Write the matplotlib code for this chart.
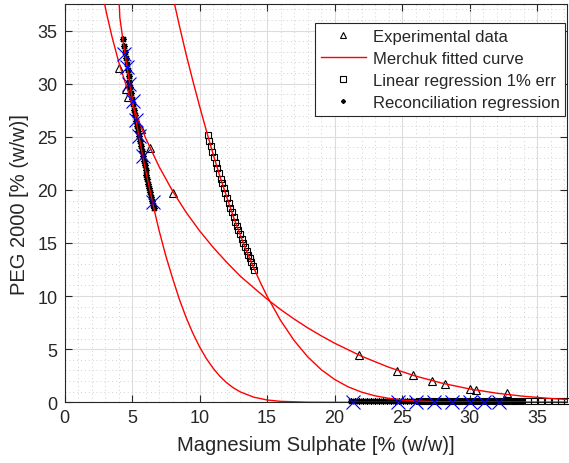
import matplotlib
matplotlib.use("Agg")
import matplotlib.pyplot as plt
from matplotlib.ticker import MultipleLocator

plt.rcParams.update({
    "font.family": ["Liberation Sans", "DejaVu Sans"],
    "text.color": "#262626",
    "axes.labelcolor": "#262626",
    "xtick.color": "#262626",
    "ytick.color": "#262626",
})

# Experimental data (triangles)
exp_x = [4.02, 4.57, 4.69, 5.68, 6.35, 8.07, 21.8, 24.6, 25.8, 27.2, 28.2, 30.0, 30.5, 32.8]
exp_y = [31.5, 29.5, 28.7, 25.7, 23.9, 19.75, 4.45, 2.97, 2.57, 2.03, 1.75, 1.25, 1.16, 0.85]

# Merchuk fitted curves
fitA_x = [4.05, 4.1, 4.32, 4.6, 5.0, 5.5, 6.0, 6.61, 7.0, 7.5, 8.0, 8.5, 9.0, 9.5, 10.0,
          10.5, 11.0, 11.5, 12.0, 12.5, 13.0, 14.0, 15.0, 16.0, 18.0, 20.0, 37.2]
fitA_y = [37.5, 36.2, 34.18, 31.83, 28.7, 25.1, 21.87, 18.3, 16.2, 13.8, 11.7, 9.72, 8.01, 6.52, 5.23,
          4.13, 3.22, 2.46, 1.85, 1.37, 0.99, 0.49, 0.22, 0.09, 0.011, 0.0, 0.0]

fitB_x = [2.97, 3.1, 3.5, 4.0, 5.0, 6.0, 7.0, 8.0, 9.0, 10.0, 11.0, 12.0, 13.0, 14.0, 15.0,
          16.0, 17.0, 18.0, 19.0, 20.0, 22.0, 24.0, 26.0, 28.0, 30.0, 32.0, 34.0, 36.0, 37.2]
fitB_y = [37.5, 36.7, 34.5, 32.1, 28.1, 24.9, 22.2, 19.9, 17.9, 16.15, 14.6, 13.2, 11.9, 10.8, 9.72,
          8.74, 7.85, 7.02, 6.27, 5.57, 4.34, 3.31, 2.47, 1.79, 1.26, 0.86, 0.57, 0.36, 0.27]

fitC_x = [8.15, 8.5, 9.0, 9.5, 10.0, 10.5, 11.0, 11.5, 12.0, 12.5, 13.0, 13.5, 14.0, 14.5, 15.0,
          16.0, 17.0, 18.0, 19.0, 20.0, 21.0, 22.0, 23.0, 24.0, 25.0, 26.0, 28.0, 30.0, 37.2]
fitC_y = [37.5, 35.5, 32.8, 30.3, 27.9, 25.6, 23.4, 21.3, 19.4, 17.5, 15.8, 14.2, 12.7, 11.3, 10.0,
          7.72, 5.83, 4.30, 3.09, 2.16, 1.46, 0.96, 0.61, 0.38, 0.22, 0.13, 0.04, 0.01, 0.0]

# Linear regression 1% err (squares)
lin_x = [10.60, 10.72, 10.84, 10.96, 11.08, 11.20, 11.32, 11.44, 11.56, 11.68, 11.80, 11.92,
         12.04, 12.16, 12.28, 12.40, 12.52, 12.64, 12.76, 12.88, 13.00, 13.12, 13.24, 13.36,
         13.48, 13.60, 13.72, 13.84, 13.96, 14.07,
         26.3, 26.8, 27.3, 27.8, 28.3, 28.8, 29.3, 29.8, 30.3, 30.8, 31.3, 31.8, 32.3, 32.8,
         33.3, 33.8, 34.3, 34.8, 35.3, 35.8, 36.3, 36.8, 37.2]
lin_y = [25.16, 24.63, 24.10, 23.58, 23.06, 22.56, 22.06, 21.55, 21.07, 20.62, 20.16, 19.70,
         19.25, 18.79, 18.34, 17.88, 17.43, 17.02, 16.62, 16.21, 15.80, 15.42, 15.03, 14.65,
         14.26, 13.90, 13.54, 13.18, 12.82, 12.50,
         0.1, 0.1, 0.1, 0.1, 0.1, 0.1, 0.1, 0.1, 0.1, 0.1, 0.1, 0.1, 0.1, 0.1,
         0.1, 0.1, 0.1, 0.1, 0.1, 0.1, 0.1, 0.1, 0.1]

# Reconciliation regression (stars)
rec_x = [4.32, 4.39, 4.46, 4.53, 4.60, 4.67, 4.74, 4.81, 4.88, 4.95, 5.02, 5.09, 5.16, 5.23,
         5.30, 5.37, 5.44, 5.51, 5.58, 5.65, 5.72, 5.79, 5.86, 5.93, 6.00, 6.07, 6.14, 6.21,
         6.28, 6.35, 6.42, 6.49, 6.56, 6.61,
         21.2, 21.5, 21.8, 22.1, 22.4, 22.7, 23.0, 23.3, 23.6, 23.9, 24.2, 24.5, 24.8, 25.1,
         25.4, 25.7, 26.0, 26.3, 26.6, 26.9, 27.2, 27.5, 27.8, 28.1, 28.4, 28.7, 29.0, 29.3,
         29.6, 29.9, 30.2, 30.5, 30.8, 31.1, 31.4, 31.7, 32.0, 32.3, 32.6, 32.9, 33.2, 33.5, 33.8]
rec_y = [34.18, 33.58, 32.99, 32.40, 31.83, 31.27, 30.71, 30.17, 29.64, 29.11, 28.55, 28.04,
         27.53, 27.03, 26.53, 26.04, 25.55, 25.03, 24.56, 24.10, 23.64, 23.19, 22.75, 22.31,
         21.87, 21.44, 21.01, 20.59, 20.17, 19.76, 19.36, 18.97, 18.58, 18.30,
         0.1, 0.1, 0.1, 0.1, 0.1, 0.1, 0.1, 0.1, 0.1, 0.1, 0.1, 0.1, 0.1, 0.1,
         0.1, 0.1, 0.1, 0.1, 0.1, 0.1, 0.1, 0.1, 0.1, 0.1, 0.1, 0.1, 0.1, 0.1,
         0.1, 0.1, 0.1, 0.1, 0.1, 0.1, 0.1, 0.1, 0.1, 0.1, 0.1, 0.1, 0.1, 0.1, 0.1]

# Blue crosses (not in legend)
cross_x = [4.44, 4.60, 4.81, 5.05, 5.30, 5.52, 5.79, 6.52,
           21.4, 24.7, 26.0, 27.4, 28.7, 30.0, 31.1, 32.2]
cross_y = [32.8, 31.6, 30.0, 28.4, 26.6, 25.1, 23.2, 18.9,
           0.05, 0.05, 0.05, 0.05, 0.05, 0.05, 0.05, 0.05]

fig = plt.figure(figsize=(5.69, 4.64), dpi=100)
ax = fig.add_axes([0.1134, 0.1308, 0.8826, 0.8584])

ax.plot(exp_x, exp_y, linestyle="none", marker="^", markersize=6, markerfacecolor="none",
        markeredgecolor="black", markeredgewidth=0.8, label="Experimental data", clip_on=False, zorder=3)
ax.plot(rec_x, rec_y, linestyle="none", marker=(8, 2, 0), markersize=5, color="black",
        markeredgewidth=0.9, clip_on=False, zorder=3)
ax.plot(lin_x, lin_y, linestyle="none", marker="s", markersize=5, markerfacecolor="none",
        markeredgecolor="black", markeredgewidth=0.8, label="Linear regression 1% err", clip_on=False, zorder=3)
ax.plot(fitA_x, fitA_y, color="#ff0000", linewidth=1.0, label="Merchuk fitted curve", zorder=4)
ax.plot(fitB_x, fitB_y, color="#ff0000", linewidth=1.0, zorder=4)
ax.plot(fitC_x, fitC_y, color="#ff0000", linewidth=1.0, zorder=4)
ax.plot(cross_x, cross_y, linestyle="none", marker="x", markersize=10, color="#0000ff",
        markeredgewidth=0.8, clip_on=False, zorder=5)
# legend handle for the stars
ax.plot([], [], linestyle="none", marker=(8, 2, 0), markersize=4, color="black",
        markeredgewidth=0.8, label="Reconciliation regression")

ax.set_xlim(0, 37.2)
ax.set_ylim(0, 37.5)
ax.xaxis.set_major_locator(MultipleLocator(5))
ax.yaxis.set_major_locator(MultipleLocator(5))
ax.xaxis.set_minor_locator(MultipleLocator(1))
ax.yaxis.set_minor_locator(MultipleLocator(1))
ax.tick_params(which="both", direction="in", top=True, right=True, labelsize=13, pad=5)
ax.tick_params(which="major", length=5, width=0.8)
ax.tick_params(which="minor", length=0)
ax.grid(True, which="major", color="#dcdcdc", linewidth=0.8)
ax.grid(True, which="minor", color="#d0d0d0", linewidth=0.7, linestyle=(0, (1, 3)))
ax.set_axisbelow(True)
for spine in ax.spines.values():
    spine.set_color("#262626")
    spine.set_linewidth(0.8)

ax.set_xlabel("Magnesium Sulphate [% (w/w)]", fontsize=14.5, labelpad=6)
ax.set_ylabel("PEG 2000 [% (w/w)]", fontsize=14.5, labelpad=6)

handles, labels = ax.get_legend_handles_labels()
order = ["Experimental data", "Merchuk fitted curve", "Linear regression 1% err", "Reconciliation regression"]
hmap = dict(zip(labels, handles))
leg = ax.legend([hmap[k] for k in order], order, loc="upper right", bbox_to_anchor=(0.997, 0.952),
                borderaxespad=0, fontsize=12, fancybox=False, framealpha=1, edgecolor="#262626",
                handlelength=2.7, borderpad=0.35, labelspacing=0.42, handletextpad=0.4,
                markerscale=0.8)
leg.get_frame().set_linewidth(0.8)
leg.set_zorder(10)

fig.savefig("out.png", dpi=100)
